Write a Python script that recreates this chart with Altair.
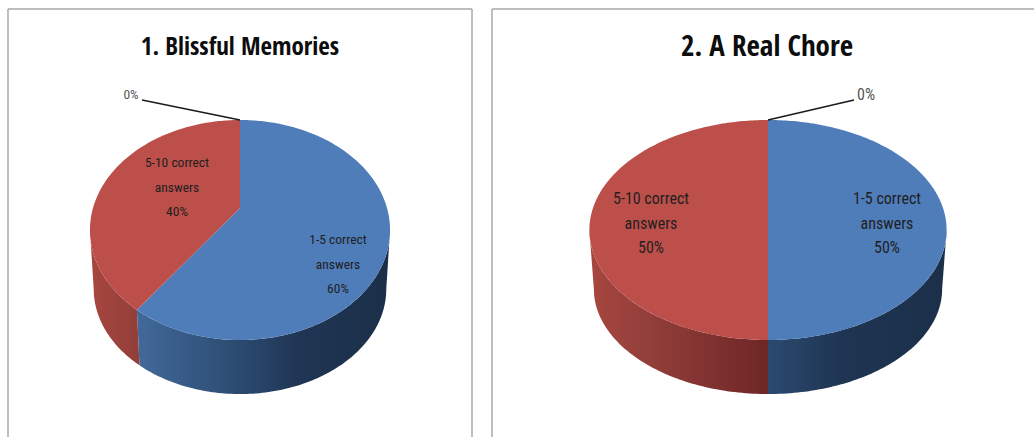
import math
import altair as alt
import pandas as pd

# Chart contents
titles = ["1. Blissful Memories", "2. A Real Chore"]
categories = ["1-5 correct answers", "5-10 correct answers"]
shares = [[60, 40, 0], [50, 50, 0]]
label_lines = [["1-5 correct", "answers"], ["5-10 correct", "answers"]]

# Pie placement, in pixels of the 1034x437 view
W, H = 1034, 437
PANELS = [
    dict(cx=240, radius=147, title_x=240, title_size=25, label_size=13.5,
         label_xy=[(338, 240), (177, 163)], zero_xy=(142, 100), zero_text=(131, 95)),
    dict(cx=768, radius=175, title_x=767, title_size=29, label_size=16,
         label_xy=[(887, 199), (651, 199)], zero_xy=(854, 100), zero_text=(866, 95)),
]
PIE_TOP, PIE_BOTTOM, PIE_HUB = 120, 340, 208
TILT = 0.2              # perspective strength of the tilted disc
BASE_SHRINK_X = 0.975   # lower rim is a little narrower than the upper one
BASE_SHRINK_Y = 0.955
BASE_MID = 289
RIM_MID = (PIE_TOP + PIE_BOTTOM) / 2

FACE = {"blue": "#4f7dba", "red": "#bd4f4b"}
# wall shading as (position across the pie from -1 to 1, colour)
WALL = {
    "blue": [(-1, "#4a76a8"), (-0.7, "#416a9b"), (0, "#2b4a70"), (0.4, "#1f3553"), (1, "#1b2f49")],
    "red": [(-1, "#a8463f"), (-0.7, "#943f3b"), (0, "#6e2726"), (1, "#5a2020")],
}
SLICE_COLORS = ["blue", "red"]

TITLE_FONT = "Open Sans Condensed"
LABEL_FONT = "Roboto Condensed"
x_scale = alt.Scale(domain=[0, W], range=[0, W], nice=False, zero=False)
y_scale = alt.Scale(domain=[0, H], range=[0, H], nice=False, zero=False)


def rim_point(panel, deg):
    """Project a point of the tilted disc, angle clockwise from twelve o'clock."""
    u, v = math.sin(math.radians(deg)), math.cos(math.radians(deg))
    b = PIE_TOP * (1 + TILT) - PIE_HUB
    w = 1 + TILT * v
    return panel["cx"] + panel["radius"] * u / w, (PIE_HUB + b * v) / w


def base_point(panel, deg):
    x, y = rim_point(panel, deg)
    return panel["cx"] + BASE_SHRINK_X * (x - panel["cx"]), BASE_MID + BASE_SHRINK_Y * (y - RIM_MID)


def polygon(points):
    return pd.DataFrame({"x": [p[0] for p in points], "y": [p[1] for p in points],
                         "i": list(range(len(points)))})


def sweep(a, b, step=1.0):
    n = max(2, int(abs(b - a) / step) + 1)
    return [a + (b - a) * i / (n - 1) for i in range(n)]


def mix(c1, c2, t):
    p = [int(c1[i:i + 2], 16) for i in (1, 3, 5)]
    q = [int(c2[i:i + 2], 16) for i in (1, 3, 5)]
    return "#" + "".join(f"{round(a + (b - a) * t):02x}" for a, b in zip(p, q))


def shade_at(stops, pos):
    for (p0, c0), (p1, c1) in zip(stops, stops[1:]):
        if p0 <= pos <= p1:
            return mix(c0, c1, (pos - p0) / (p1 - p0))
    return stops[0][1] if pos < stops[0][0] else stops[-1][1]


def wall_fill(panel, color, xs):
    x0, x1 = min(xs), max(xs)
    half = panel["radius"] / math.sqrt(1 - TILT ** 2)
    to_pos = lambda x: (x - panel["cx"]) / half
    stops = [alt.GradientStop(color=shade_at(WALL[color], to_pos(x0)), offset=0)]
    for pos, c in WALL[color]:
        x = panel["cx"] + pos * half
        if x0 < x < x1:
            stops.append(alt.GradientStop(color=c, offset=(x - x0) / (x1 - x0)))
    stops.append(alt.GradientStop(color=shade_at(WALL[color], to_pos(x1)), offset=1))
    return alt.Gradient(gradient="linear", stops=stops, x1=0, x2=1, y1=0, y2=0)


def shape(points, fill):
    return alt.Chart(polygon(points)).mark_line(
        fill=fill, stroke="transparent", strokeWidth=0, interpolate="linear-closed"
    ).encode(
        x=alt.X("x:Q", scale=x_scale, axis=None),
        y=alt.Y("y:Q", scale=y_scale, axis=None),
        order=alt.Order("i:Q"),
    )


def text_layer(rows, size, font=LABEL_FONT, weight=400, color="#1f1f1f"):
    return alt.Chart(pd.DataFrame(rows)).mark_text(
        font=font, fontSize=size, fontWeight=weight,
        color=color, align="center", baseline="middle",
    ).encode(
        x=alt.X("x:Q", scale=x_scale, axis=None),
        y=alt.Y("y:Q", scale=y_scale, axis=None),
        text="t:N",
    )


layers = []
LINE_STEP = 24.5
# silhouette of the disc: the wall is only visible between these angles
edge = math.degrees(math.acos(-TILT))

for panel, title, vals in zip(PANELS, titles, shares):
    total = sum(vals)
    start = 0.0
    walls, faces, rows = [], [], []
    for k, color in enumerate(SLICE_COLORS):
        end = start + 360 * vals[k] / total
        lo, hi = max(start, edge), min(end, 360 - edge)
        if hi > lo:
            rim = [rim_point(panel, a) for a in sweep(lo, hi)]
            base = [base_point(panel, a) for a in sweep(hi, lo)]
            walls.append(shape(rim + base, wall_fill(panel, color, [p[0] for p in rim + base])))
        hub = (panel["cx"], PIE_HUB)
        faces.append(shape([hub] + [rim_point(panel, a) for a in sweep(start, end)], FACE[color]))
        lx, ly = panel["label_xy"][k]
        for j, line in enumerate(label_lines[k] + [f"{vals[k]}%"]):
            rows.append({"x": lx, "y": ly + j * LINE_STEP, "t": line})
        start = end
    layers += walls + faces

    # leader line of the empty slice
    leader = pd.DataFrame({"x": [panel["cx"], panel["zero_xy"][0]],
                           "y": [PIE_TOP, panel["zero_xy"][1]], "i": [0, 1]})
    layers.append(alt.Chart(leader).mark_line(color="#1a1a1a", strokeWidth=1.4).encode(
        x=alt.X("x:Q", scale=x_scale, axis=None),
        y=alt.Y("y:Q", scale=y_scale, axis=None),
        order=alt.Order("i:Q"),
    ))
    layers.append(text_layer(rows, panel["label_size"]))
    zx, zy = panel["zero_text"]
    layers.append(text_layer([{"x": zx, "y": zy, "t": f"{vals[2]}%"}], panel["label_size"], color="#555555"))
    layers.append(text_layer([{"x": panel["title_x"], "y": 47, "t": title}], panel["title_size"],
                             font=TITLE_FONT, weight=700, color="#0d0d0d"))

# panel frames, open at the bottom
frame_segments = [
    dict(x=8, x2=8, y=9, y2=H), dict(x=8, x2=472, y=9, y2=9), dict(x=472, x2=472, y=9, y2=H),
    dict(x=492, x2=492, y=9, y2=H), dict(x=492, x2=W, y=9, y2=9),
]
frames = [
    alt.Chart(pd.DataFrame({"a": [0]})).mark_rule(color="#a9a9a9", strokeWidth=1.5).encode(
        x=alt.value(s["x"]), x2=alt.value(s["x2"]), y=alt.value(s["y"]), y2=alt.value(s["y2"])
    )
    for s in frame_segments
]

chart = alt.layer(*frames, *layers).properties(
    width=W, height=H, padding=0, background="white",
    autosize=alt.AutoSizeParams(type="none"),
).configure_view(stroke=None)

chart.save("out.html", embed_options={"renderer": "svg", "actions": False})
